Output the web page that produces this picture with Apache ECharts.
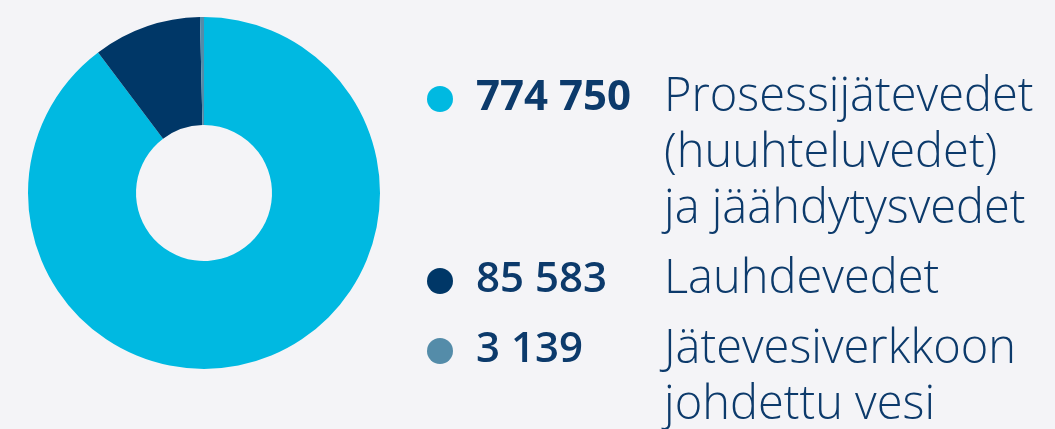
<!DOCTYPE html>
<html>
<head>
<meta charset="utf-8">
<script src="https://cdn.jsdelivr.net/npm/echarts@6/dist/echarts.min.js"></script>
<style>
  html, body { margin: 0; padding: 0; background: #f4f4f7; }
  #chart { width: 1055px; height: 429px; }
</style>
</head>
<body>
<div id="chart"></div>
<script>
const categories = ['Prosessijätevedet\n(huuhteluvedet)\nja jäähdytysvedet', 'Lauhdevedet', 'Jätevesiverkkoon\njohdettu vesi']
const values = [774750, 85583, 3139]
const valueLabels = ['774 750', '85 583', '3 139']
const colors = ['#00b9e1', '#003767', '#548ca9']
const numberWeights = [700, 600, 600]

const textColor = '#0c3a6b'
const fontFamily = '"Open Sans", Lato, sans-serif'

let myChart = echarts.init(document.getElementById('chart'), null, { width: 1055, height: 429 })

// legend drawn as graphic elements, built from the arrays above
let graphic = []
let y = 98
categories.forEach((name, i) => {
  const lines = name.split('\n')
  graphic.push({
    type: 'circle',
    shape: { cx: 440, cy: y + 1, r: 13 },
    style: { fill: colors[i] }
  })
  graphic.push({
    type: 'text',
    x: 476,
    y: y,
    style: {
      text: valueLabels[i],
      fill: textColor,
      font: numberWeights[i] + ' 42px ' + fontFamily,
      verticalAlign: 'middle'
    }
  })
  lines.forEach((line, j) => {
    graphic.push({
      type: 'text',
      x: 664,
      y: y + j * 56,
      style: {
        text: line,
        fill: textColor,
        font: '300 47px ' + fontFamily,
        verticalAlign: 'middle'
      }
    })
  })
  y += (lines.length - 1) * 56 + 70
})

let option = {
  backgroundColor: '#f4f4f7',
  animation: false,
  color: colors,
  graphic: graphic,
  series: [
    {
      type: 'pie',
      center: [204, 193],
      radius: [68, 176],
      startAngle: 90,
      clockwise: true,
      label: { show: false },
      labelLine: { show: false },
      itemStyle: { borderWidth: 0 },
      data: categories.map((name, i) => ({ name: name, value: values[i] }))
    }
  ]
}
myChart.setOption(option)
</script>
</body>
</html>
